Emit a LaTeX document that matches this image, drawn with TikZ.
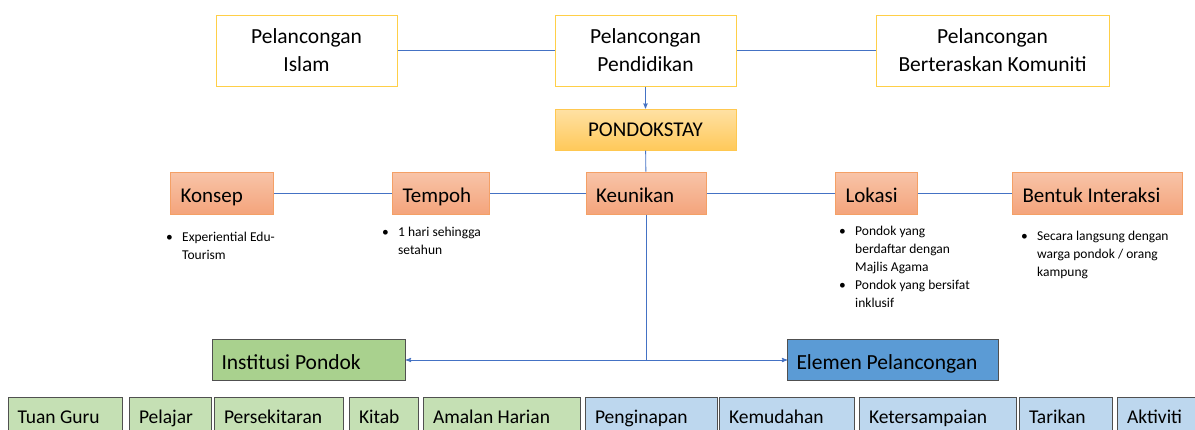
\documentclass[tikz,border=0pt]{standalone}
\usepackage{fontspec}
\setmainfont{Carlito}
\usepackage{tikz}
\usetikzlibrary{arrows}

\definecolor{GoldLine}{HTML}{FFCF48}
\definecolor{LineBlue}{HTML}{4472C4}
\definecolor{StayTop}{HTML}{FFE1A4}
\definecolor{StayBot}{HTML}{FFC95A}
\definecolor{StayLine}{HTML}{FFC850}
\definecolor{AspekTop}{HTML}{F8C4A8}
\definecolor{AspekBot}{HTML}{F4A47C}
\definecolor{AspekLine}{HTML}{F4A066}
\definecolor{DarkLine}{HTML}{505050}
\definecolor{GreenDark}{HTML}{A9D18E}
\definecolor{GreenLight}{HTML}{C5E0B4}
\definecolor{BlueDark}{HTML}{5B9BD5}
\definecolor{BlueLight}{HTML}{BDD7EE}

\newcommand{\butir}[1]{\noindent\hbox to 16pt{\textbullet\hfil}\parbox[t]{150pt}{\raggedright #1}\par}

\begin{document}
\begin{tikzpicture}[x=1pt,y=-1pt,>=stealth',
    topbox/.style={draw=GoldLine,line width=1pt,fill=white,minimum width=#1,minimum height=71pt,
      align=center,inner sep=0pt,font=\fontsize{21.5}{28}\selectfont},
    stay/.style={draw=StayLine,line width=1pt,top color=StayTop,bottom color=StayBot,
      minimum width=181pt,minimum height=41pt,font=\fontsize{21}{25}\selectfont},
    aspek/.style={draw=AspekLine,line width=1pt,top color=AspekTop,bottom color=AspekBot,anchor=west,
      text width=#1,inner xsep=10pt,minimum height=42pt,align=flush left,
      text height=19pt,text depth=0pt,font=\fontsize{21}{25}\selectfont},
    induk/.style={draw=DarkLine,line width=1pt,anchor=west,text width=#1,inner xsep=9pt,
      minimum height=41pt,align=flush left,text height=18pt,text depth=0pt,
      font=\fontsize{21.5}{25}\selectfont},
    unsur/.style={draw=DarkLine,line width=1pt,anchor=north west,text width=#1,inner xsep=9.5pt,
      minimum height=42pt,align=flush left,text height=14pt,text depth=4pt,
      font=\fontsize{19.5}{23}\selectfont},
    butiran/.style={anchor=north west,inner sep=0pt,text width=#1,align=flush left,
      font=\fontsize{13.5}{17.8}\selectfont},
    penyambung/.style={draw=LineBlue,line width=0.9pt}]

    \useasboundingbox (0,0) rectangle (1195,429);

    % jenis pelancongan
    \node[topbox=181pt] (islam)    at (306.5,50.5) {Pelancongan\\Islam};
    \node[topbox=181pt] (didik)    at (645.5,50.5) {Pelancongan\\Pendidikan};
    \node[topbox=233pt] (komuniti) at (992.5,50.5) {Pelancongan\\Berteraskan Komuniti};

    \node[stay] (pondokstay) at (645.5,129.5) {PONDOKSTAY};

    % aspek
    \node[aspek=83pt]  (konsep)   at (170,193) {Konsep};
    \node[aspek=77pt]  (tempoh)   at (392,193) {Tempoh};
    \node[aspek=100pt] (keunikan) at (585.5,193) {Keunikan};
    \node[aspek=62pt]  (lokasi)   at (835,193) {Lokasi};
    \node[aspek=150pt] (bentuk)   at (1012,193) {Bentuk Interaksi};

    \node[butiran=170pt] (konsep-b)  at (166,232)  {\butir{Experiential Edu-\\Tourism}};
    \node[butiran=170pt] (tempoh-b)  at (382,227)  {\butir{1 hari sehingga\\setahun}};
    \node[butiran=170pt] (lokasi-b)  at (839,226)  {\butir{Pondok yang\\berdaftar dengan\\Majlis Agama}};
    \node[butiran=170pt] (lokasi-c)  at (839,280)  {\butir{Pondok yang bersifat\\inklusif}};
    \node[butiran=170pt] (bentuk-b)  at (1021,231) {\butir{Secara langsung dengan\\warga pondok / orang\\kampung}};

    \node[induk=175pt, fill=GreenDark] (institusi) at (212,360) {Institusi Pondok};
    \node[induk=193pt, fill=BlueDark]  (elemen)    at (787,360) {Elemen Pelancongan};

    \coordinate (hub) at (keunikan.south |- institusi.east);

    % komponen institusi pondok
    \node[unsur=95pt,  fill=GreenLight] (guru)    at (7.5,397)  {Tuan Guru};
    \node[unsur=63pt,  fill=GreenLight] (pelajar) at (129,397)  {Pelajar};
    \node[unsur=110pt, fill=GreenLight] (sekitar) at (214,397)  {Persekitaran};
    \node[unsur=50pt,  fill=GreenLight] (kitab)   at (349,397)  {Kitab};
    \node[unsur=138pt, fill=GreenLight] (amalan)  at (423,397)  {Amalan Harian};
    % komponen elemen pelancongan
    \node[unsur=113pt, fill=BlueLight] (inap)     at (585,397)  {Penginapan};
    \node[unsur=116pt, fill=BlueLight] (mudah)    at (719,397)  {Kemudahan};
    \node[unsur=138pt, fill=BlueLight] (sampai)   at (859,397)  {Ketersampaian};
    \node[unsur=74pt,  fill=BlueLight] (tarikan)  at (1019,397) {Tarikan};
    \node[unsur=60pt,  fill=BlueLight] (aktiviti) at (1117,397) {Aktiviti};

    \path[penyambung]
    (islam) edge (didik)
    (didik) edge (komuniti)
    (didik) edge[->] (pondokstay)
    (pondokstay) edge (keunikan)
    (konsep) edge (tempoh)
    (tempoh) edge (keunikan)
    (keunikan) edge (lokasi)
    (lokasi) edge (bentuk)
    (keunikan.south) edge (hub)
    (hub) edge[->] (institusi)
    (hub) edge[->] (elemen);
\end{tikzpicture}
\end{document}
